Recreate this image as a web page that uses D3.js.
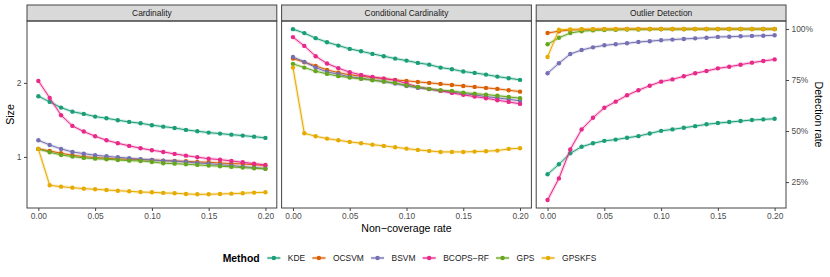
<!DOCTYPE html>
<html>
<head>
<meta charset="utf-8">
<script src="https://cdn.jsdelivr.net/npm/d3@7"></script>
<style>
  body { margin: 0; background: #fff; }
  text { font-family: "Liberation Sans", Arial, sans-serif; }
</style>
</head>
<body>
<div id="content"></div>
<script>
// non-coverage rates on the x axis
var rates = [0, 0.01, 0.02, 0.03, 0.04, 0.05, 0.06, 0.07, 0.08, 0.09, 0.10,
    0.11, 0.12, 0.13, 0.14, 0.15, 0.16, 0.17, 0.18, 0.19, 0.20];

var methods = ["KDE", "OCSVM", "BSVM", "BCOPS\u2212RF", "GPS", "GPSKFS"];
var colors = ["#1B9E77", "#D95F02", "#7570B3", "#E7298A", "#66A61E", "#E6AB02"];
var facets = ["Cardinality", "Conditional Cardinality", "Outlier Detection"];

// one row per method, same order as methods
var cardinality = [
    [1.766, 1.674, 1.587, 1.528, 1.496, 1.459, 1.437, 1.410, 1.388, 1.371, 1.346, 1.328, 1.312, 1.288, 1.272, 1.256, 1.244, 1.232, 1.221, 1.209, 1.195],
    [1.078, 1.058, 1.035, 1.016, 1.003, 0.994, 0.988, 0.981, 0.979, 0.975, 0.972, 0.966, 0.963, 0.960, 0.954, 0.952, 0.945, 0.939, 0.937, 0.930, 0.922],
    [1.169, 1.119, 1.078, 1.048, 1.031, 1.016, 1.006, 0.997, 0.988, 0.979, 0.972, 0.966, 0.961, 0.954, 0.945, 0.939, 0.930, 0.922, 0.913, 0.905, 0.898],
    [2.038, 1.738, 1.478, 1.337, 1.268, 1.214, 1.169, 1.137, 1.109, 1.085, 1.065, 1.048, 1.029, 1.012, 0.997, 0.984, 0.975, 0.963, 0.951, 0.939, 0.928],
    [1.078, 1.045, 1.019, 1.003, 0.991, 0.984, 0.979, 0.972, 0.966, 0.963, 0.954, 0.943, 0.939, 0.934, 0.928, 0.922, 0.917, 0.911, 0.905, 0.900, 0.894],
    [1.078, 0.767, 0.757, 0.750, 0.743, 0.739, 0.734, 0.729, 0.725, 0.720, 0.718, 0.714, 0.712, 0.707, 0.705, 0.705, 0.707, 0.709, 0.712, 0.716, 0.718]
];

var condCardinality = [
    [3.308, 3.188, 3.040, 2.928, 2.836, 2.750, 2.691, 2.624, 2.568, 2.511, 2.464, 2.412, 2.373, 2.308, 2.274, 2.224, 2.196, 2.161, 2.121, 2.090, 2.057],
    [2.511, 2.428, 2.346, 2.259, 2.202, 2.156, 2.130, 2.102, 2.082, 2.057, 2.038, 2.019, 2.000, 1.981, 1.962, 1.944, 1.926, 1.908, 1.891, 1.867, 1.843],
    [2.551, 2.435, 2.308, 2.217, 2.170, 2.115, 2.090, 2.057, 2.025, 1.987, 1.944, 1.908, 1.886, 1.856, 1.833, 1.809, 1.788, 1.759, 1.738, 1.717, 1.690],
    [3.070, 2.828, 2.568, 2.397, 2.296, 2.211, 2.156, 2.115, 2.082, 2.051, 1.990, 1.926, 1.891, 1.856, 1.821, 1.788, 1.759, 1.733, 1.701, 1.674, 1.643],
    [2.390, 2.308, 2.232, 2.176, 2.130, 2.102, 2.076, 2.051, 2.025, 2.000, 1.953, 1.926, 1.891, 1.867, 1.856, 1.826, 1.809, 1.792, 1.775, 1.754, 1.733],
    [2.308, 1.248, 1.214, 1.187, 1.169, 1.151, 1.137, 1.122, 1.109, 1.095, 1.081, 1.068, 1.058, 1.048, 1.048, 1.048, 1.051, 1.055, 1.061, 1.078, 1.085]
];

// detection rate in percent
var detection = [
    [28.8, 33.7, 39.1, 42.3, 44.0, 45.2, 45.8, 46.7, 47.5, 48.8, 50.1, 50.8, 51.6, 52.4, 53.3, 53.9, 54.4, 54.9, 55.4, 55.7, 56.0],
    [98.0, 98.9, 99.5, 99.7, 99.8, 99.9, 99.9, 100, 100, 100, 100, 100, 100, 100, 100, 100, 100, 100, 100, 100, 100],
    [78.3, 83.2, 87.7, 89.7, 91.0, 92.0, 92.5, 93.0, 93.6, 94.0, 94.5, 94.8, 95.1, 95.4, 95.7, 96.1, 96.2, 96.4, 96.6, 96.7, 96.9],
    [16.2, 26.8, 41.0, 50.8, 56.5, 61.4, 64.4, 67.5, 70.0, 72.2, 74.2, 75.3, 76.8, 78.3, 79.4, 80.7, 81.5, 82.5, 83.5, 84.3, 85.1],
    [92.5, 95.7, 98.0, 98.9, 99.3, 99.5, 99.6, 99.7, 99.7, 99.8, 99.8, 99.8, 99.8, 99.9, 99.9, 99.9, 99.9, 99.9, 99.9, 99.9, 99.9],
    [86.3, 99.6, 99.8, 99.9, 99.9, 100, 100, 100, 100, 100, 100, 100, 100, 100, 100, 100, 100, 100, 100, 100, 100]
];

var sizeTicks = [1, 2],
    rateTicks = [25, 50, 75, 100],
    xTicks = [0, 0.05, 0.10, 0.15, 0.20];

var W = 830, H = 277;
var panelLeft = [27, 281.6, 536.2],
    panelW = 249.8,
    panelTop = 21, panelBottom = 208,
    stripTop = 5;

var svg = d3.select("#content").append("svg")
    .attr("width", W)
    .attr("height", H);

var ySize = d3.scaleLog().base(2).domain([0.62, 3.57]).range([panelBottom, panelTop]),
    yRate = d3.scaleLinear().domain([12.3, 103.9]).range([panelBottom, panelTop]);

var panelData = [cardinality, condCardinality, detection];

panelLeft.forEach(function(left, p) {
    var x = d3.scaleLinear().domain([-0.01, 0.21]).range([left, left + panelW]);
    var y = p < 2 ? ySize : yRate;
    var g = svg.append("g");

    // strip
    g.append("rect")
        .attr("x", left).attr("y", stripTop)
        .attr("width", panelW).attr("height", panelTop - stripTop)
        .attr("fill", "#D9D9D9")
        .attr("stroke", "#444444")
        .attr("stroke-width", 1);
    g.append("text")
        .attr("x", left + panelW / 2)
        .attr("y", 16.3)
        .attr("text-anchor", "middle")
        .attr("font-size", "8.4px")
        .attr("fill", "#1A1A1A")
        .text(facets[p]);

    var line = d3.line()
        .x(function(d, i) { return x(rates[i]); })
        .y(function(d) { return y(d); });

    panelData[p].forEach(function(series, m) {
        g.append("path")
            .attr("d", line(series))
            .attr("fill", "none")
            .attr("stroke", colors[m])
            .attr("stroke-opacity", 0.22)
            .attr("stroke-width", 3.2);
        g.append("path")
            .attr("d", line(series))
            .attr("fill", "none")
            .attr("stroke", colors[m])
            .attr("stroke-width", 1);
        g.selectAll(null)
            .data(series)
            .enter()
            .append("circle")
            .attr("cx", function(d, i) { return x(rates[i]); })
            .attr("cy", function(d) { return y(d); })
            .attr("r", 2.2)
            .attr("fill", colors[m]);
    });

    // panel border
    g.append("rect")
        .attr("x", left).attr("y", panelTop)
        .attr("width", panelW).attr("height", panelBottom - panelTop)
        .attr("fill", "none")
        .attr("stroke", "#444444")
        .attr("stroke-width", 1);

    var xAxis = d3.axisBottom(x)
        .tickValues(xTicks)
        .tickSize(3)
        .tickPadding(2.5)
        .tickFormat(d3.format(".2f"));
    var ax = g.append("g")
        .attr("transform", "translate(0," + panelBottom + ")")
        .call(xAxis);
    styleAxis(ax);

    if (p == 0) {
        var yAxis = d3.axisLeft(ySize).tickValues(sizeTicks).tickSize(3).tickPadding(2.5)
            .tickFormat(d3.format("d"));
        var ay = g.append("g").attr("transform", "translate(" + left + ",0)").call(yAxis);
        styleAxis(ay);
    }
    if (p == 2) {
        var rAxis = d3.axisRight(yRate).tickValues(rateTicks).tickSize(3).tickPadding(2.5)
            .tickFormat(function(d) { return d + "%"; });
        var ar = g.append("g").attr("transform", "translate(" + (left + panelW) + ",0)").call(rAxis);
        styleAxis(ar);
    }
});

function styleAxis(a) {
    a.select(".domain").remove();
    a.selectAll(".tick line").attr("stroke", "#444444");
    a.selectAll(".tick text")
        .attr("fill", "#4D4D4D")
        .style("font-family", "'Liberation Sans', Arial, sans-serif")
        .style("font-size", "8.4px");
}

// axis titles
svg.append("text")
    .attr("x", (panelLeft[0] + panelLeft[2] + panelW) / 2)
    .attr("y", 231.5)
    .attr("text-anchor", "middle")
    .attr("font-size", "10.6px")
    .text("Non\u2212coverage rate");

svg.append("text")
    .attr("transform", "translate(13.5," + (panelTop + panelBottom) / 2 + ") rotate(-90)")
    .attr("text-anchor", "middle")
    .attr("font-size", "10.6px")
    .text("Size");

svg.append("text")
    .attr("transform", "translate(815," + (panelTop + panelBottom) / 2 + ") rotate(90)")
    .attr("text-anchor", "middle")
    .attr("font-size", "10.6px")
    .text("Detection rate");

// legend
var legendY = 258;
var lg = svg.append("g");
var title = lg.append("text")
    .attr("x", 222.7)
    .attr("y", legendY + 3.7)
    .attr("font-size", "10.4px")
    .attr("font-weight", "bold")
    .text("Method");

var cx = 222.7 + title.node().getComputedTextLength() + 14.2;
methods.forEach(function(name, m) {
    lg.append("line")
        .attr("x1", cx - 6.5).attr("x2", cx + 6.5)
        .attr("y1", legendY).attr("y2", legendY)
        .attr("stroke", colors[m])
        .attr("stroke-opacity", 0.4)
        .attr("stroke-width", 2.5);
    lg.append("line")
        .attr("x1", cx - 6.5).attr("x2", cx + 6.5)
        .attr("y1", legendY).attr("y2", legendY)
        .attr("stroke", colors[m])
        .attr("stroke-width", 1);
    lg.append("circle")
        .attr("cx", cx).attr("cy", legendY)
        .attr("r", 2.2)
        .attr("fill", colors[m]);
    var t = lg.append("text")
        .attr("x", cx + 14)
        .attr("y", legendY + 3)
        .attr("font-size", "8.45px")
        .attr("fill", "#1A1A1A")
        .text(name);
    cx = cx + 14 + t.node().getComputedTextLength() + 13.7;
});
</script>
</body>
</html>
